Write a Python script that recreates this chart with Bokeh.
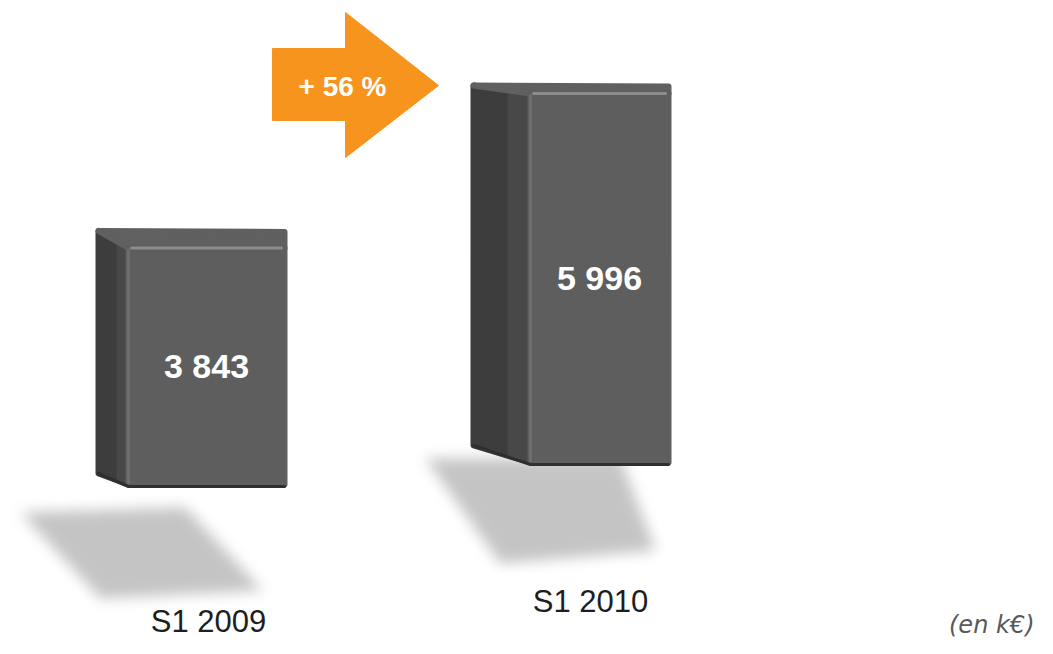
import numpy as np
from bokeh.plotting import figure
from bokeh.models import Range1d
from bokeh.core.properties import value
from bokeh.embed import file_html
from bokeh.resources import INLINE

# ---------------- data ----------------
categories = ["S1 2009", "S1 2010"]
revenue = [3843, 5996]          # k€
unit_label = "(en k€)"

growth = (revenue[1] / revenue[0] - 1) * 100
growth_label = f"+ {growth:.0f} %"
value_labels = [f"{v:,}".replace(",", " ") for v in revenue]

# ---------------- layout ----------------
W, H = 1037, 638
UPP = 16.25          # value units per pixel
ZERO_PX = 462        # screen y of value 0 (right bar floor)


def px_to_val(py):
    return (ZERO_PX - py) * UPP


front_left = [128, 530]
front_right = [284, 668]
floor_px = [484, 462]
side_dx = [30, 57]
top_h = [17, 8]
side_rise = [11, 17]
label_pos = [(208, 621), (590, 601)]

shadow_rel = [
    [(-108, 28), (57, 23), (134, 106), (-28, 114)],
    [(-105, -4), (90, -4), (125, 88), (-30, 101)],
]

p = figure(width=W, height=H, output_backend="svg", toolbar_location=None,
           x_range=Range1d(0, W),
           y_range=Range1d(px_to_val(H), px_to_val(0)),
           x_axis_location=None, y_axis_location=None,
           min_border=0, outline_line_color=None)
p.extra_y_ranges = {"px": Range1d(H, 0)}
p.background_fill_color = "white"
p.border_fill_color = "white"
p.grid.visible = False
p.xgrid.visible = False
p.ygrid.visible = False


def shadow_image(pts, blur=6, pad=20, grey=196):
    xs = [q[0] for q in pts]
    ys = [q[1] for q in pts]
    x0, x1 = int(min(xs)) - pad, int(max(xs)) + pad
    y0, y1 = int(min(ys)) - pad, int(max(ys)) + pad
    gx, gy = np.meshgrid(np.arange(x0, x1) + 0.5, np.arange(y0, y1) + 0.5)
    n = len(pts)
    area = sum(xs[i] * ys[(i + 1) % n] - xs[(i + 1) % n] * ys[i] for i in range(n))
    sgn = 1 if area > 0 else -1
    inside = np.ones(gx.shape, bool)
    for i in range(n):
        ax, ay = pts[i]
        bx, by = pts[(i + 1) % n]
        cross = (bx - ax) * (gy - ay) - (by - ay) * (gx - ax)
        inside &= (cross * sgn >= 0)
    m = inside.astype(float)
    k = np.ones(2 * blur + 1) / (2 * blur + 1)
    for _ in range(3):
        m = np.apply_along_axis(lambda r: np.convolve(r, k, mode="same"), 1, m)
        m = np.apply_along_axis(lambda c: np.convolve(c, k, mode="same"), 0, m)
    h, w = m.shape
    img = np.zeros((h, w), dtype=np.uint32)
    view = img.view(dtype=np.uint8).reshape((h, w, 4))
    view[..., 0] = grey
    view[..., 1] = grey
    view[..., 2] = grey
    view[..., 3] = np.clip(m * 255, 0, 255).astype(np.uint8)
    return np.flipud(img), x0, y0, x1, y1


# shadows
for i in range(2):
    fl, fb = front_left[i], floor_px[i]
    pts = [(fl + dx, fb + dy) for dx, dy in shadow_rel[i]]
    img, x0, y0, x1, y1 = shadow_image(pts)
    p.image_rgba(image=[img], x=x0, y=px_to_val(y1), dw=x1 - x0, dh=(y1 - y0) * UPP)

# bars
base_v = [px_to_val(f) for f in floor_px]
top_v = [b + v for b, v in zip(base_v, revenue)]

for i in range(2):
    fl, fr, dx = front_left[i], front_right[i], side_dx[i]
    b, t = base_v[i], top_v[i]
    th = top_h[i] * UPP
    rise = side_rise[i] * UPP
    # left side face
    p.patch([fl, fl, fl - dx, fl - dx], [b, t, t + th, b + rise],
            fill_color="#3d3d3d", line_color="#3d3d3d", line_width=6, line_join="round")
    p.patch([fl, fl, fl - dx * 0.4, fl - dx * 0.4],
            [b, t, t + th * 0.4, b + rise * 0.4],
            fill_color="#484848", line_color=None)
    # top face
    p.patch([fl - dx, fr, fr, fl], [t + th, t + th - UPP, t, t],
            fill_color="#606060", line_color="#606060", line_width=6, line_join="round")

p.quad(left=front_left, right=front_right, bottom=base_v, top=top_v,
       fill_color="#5e5e5e", line_color="#5e5e5e", line_width=6, line_join="round")

# bevel highlights
for i in range(2):
    fl, fr = front_left[i], front_right[i]
    b, t = base_v[i], top_v[i]
    p.line([fl + 3, fr - 3], [t, t], line_color="#8c8c8c", line_width=3, line_cap="round")
    p.line([fl, fl], [t - 2 * UPP, b + 2 * UPP], line_color="#6e6e6e", line_width=3,
           line_cap="round")
    p.line([fl - side_dx[i], fl, fr], [b + side_rise[i] * UPP, b - 2 * UPP, b - 2 * UPP],
           line_color="#2f2f2f", line_width=3, line_join="round", line_cap="round")

# value labels
p.text(x=[(front_left[i] + front_right[i]) / 2 for i in range(2)],
       y=[(base_v[i] + top_v[i]) / 2 for i in range(2)],
       text=value_labels, text_font=value("Liberation Sans"), text_font_style="bold",
       text_font_size="34px", text_color="white", text_align="center",
       text_baseline="middle")

# category labels
p.text(x=[lp[0] for lp in label_pos], y=[lp[1] for lp in label_pos], y_range_name="px",
       text=categories, text_font=value("Liberation Sans"), text_font_size="31px",
       text_color="#1e1e1e", text_align="center", text_baseline="middle")

# growth arrow
AL, AB, AT, ABOT, HT, HB, TIP, MID = 272, 345, 48, 120, 12, 157, 438, 85
p.patch([AL, AB, AB, TIP, AB, AB, AL], [AT, AT, HT, MID, HB, ABOT, ABOT],
        y_range_name="px", fill_color="#F7941D", line_color="#F7941D", line_width=1)
p.text(x=[342], y=[86], y_range_name="px", text=[growth_label],
       text_font=value("Liberation Sans"), text_font_style="bold", text_font_size="28px",
       text_color="white", text_align="center", text_baseline="middle")

# unit label
p.text(x=[1034], y=[624], y_range_name="px", text=[unit_label],
       text_font=value("DejaVu Sans"), text_font_style="italic", text_font_size="24px",
       text_color="#595959", text_align="right", text_baseline="middle")

open("out.html", "w").write(file_html(p, INLINE))
